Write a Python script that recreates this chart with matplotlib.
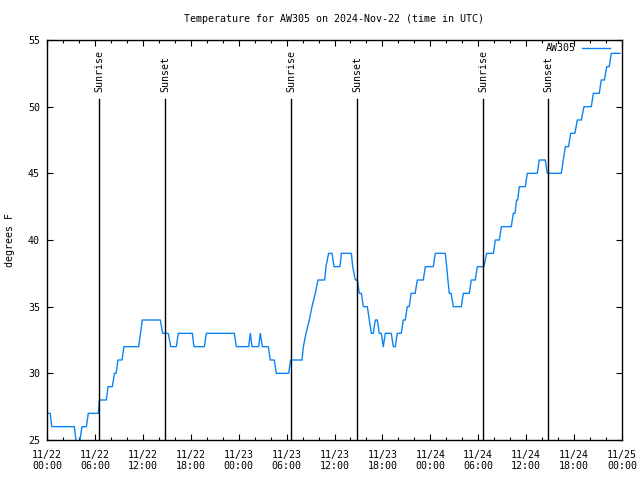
import matplotlib
matplotlib.use("Agg")
import matplotlib.pyplot as plt
from matplotlib.ticker import MultipleLocator

# ---- data (hours since 2024-11-22 00:00 UTC, degrees F) ----
hours = [0.1, 0.4, 0.6, 3.42, 3.63, 3.88, 4.13, 4.38, 4.93, 5.17, 6.43, 6.55, 7.43, 7.64,
         8.18, 8.45, 8.65, 8.89, 9.39, 9.64, 11.48, 11.7, 11.93, 14.19, 14.48, 15.19, 15.49,
         16.19, 16.44, 18.2, 18.4, 19.7, 19.95, 23.46, 23.71, 25.25, 25.46, 25.67, 26.5,
         26.71, 26.96, 27.71, 27.96, 28.46, 28.71, 30.26, 30.51, 31.93, 32.1, 32.43, 32.85,
         33.18, 33.6, 33.93, 34.77, 34.93, 35.27, 35.69, 35.94, 36.69, 36.86, 38.11, 38.28,
         38.61, 38.86, 39.11, 39.36, 39.61, 40.11, 40.36, 40.61, 40.86, 41.11, 41.36, 41.61,
         41.86, 42.11, 42.36, 43.11, 43.36, 43.61, 43.86, 44.36, 44.61, 44.86, 45.11, 45.35,
         45.6, 46.1, 46.37, 47.12, 47.37, 48.37, 48.62, 49.87, 50.05, 50.2, 50.38, 50.6,
         50.88, 51.88, 52.13, 52.88, 53.13, 53.63, 53.88, 54.7, 55.06, 55.9, 56.14, 56.64,
         56.89, 58.14, 58.39, 58.6, 58.8, 58.95, 59.14, 59.89, 60.14, 61.39, 61.64, 62.4,
         62.65, 64.4, 64.65, 64.9, 65.3, 65.57, 66.1, 66.4, 66.9, 67.24, 68.16, 68.41,
         69.16, 69.4, 69.8, 70.08, 70.4, 70.66, 71.75]
temps = [27, 27, 26, 26, 25, 24, 25, 26, 26, 27, 27, 28, 28, 29,
         29, 30, 30, 31, 31, 32, 32, 33, 34, 34, 33, 33, 32,
         32, 33, 33, 32, 32, 33, 33, 32, 32, 33, 32, 32,
         33, 32, 32, 31, 31, 30, 30, 31, 31, 32, 33, 34,
         35, 36, 37, 37, 38, 39, 39, 38, 38, 39, 39, 38,
         37, 37, 36, 36, 35, 35, 34, 33, 33, 34, 34, 33,
         33, 32, 33, 33, 32, 32, 33, 33, 34, 34, 35, 35,
         36, 36, 37, 37, 38, 38, 39, 39, 38, 37, 36, 36,
         35, 35, 36, 36, 37, 37, 38, 38, 39, 39, 40, 40,
         41, 41, 42, 42, 43, 43, 44, 44, 45, 45, 46, 46,
         45, 45, 46, 47, 47, 48, 48, 49, 49, 50, 50, 51,
         51, 52, 52, 53, 53, 54, 54]

sun_events = [6.51, 14.78, 30.59, 38.86, 54.64, 62.78]
sun_labels = ["Sunrise", "Sunset", "Sunrise", "Sunset", "Sunrise", "Sunset"]

xtick_hours = [0, 6, 12, 18, 24, 30, 36, 42, 48, 54, 60, 66, 72]
xtick_labels = ["11/22\n00:00", "11/22\n06:00", "11/22\n12:00", "11/22\n18:00",
                "11/23\n00:00", "11/23\n06:00", "11/23\n12:00", "11/23\n18:00",
                "11/24\n00:00", "11/24\n06:00", "11/24\n12:00", "11/24\n18:00",
                "11/25\n00:00"]
yticks = [25, 30, 35, 40, 45, 50, 55]

title = "Temperature for AW305 on 2024-Nov-22 (time in UTC)"
series_name = "AW305"

# ---- drawing ----
FONT = "DejaVu Sans Mono"
FS = 7.2
plt.rcParams["font.family"] = FONT
plt.rcParams["font.size"] = FS

fig = plt.figure(figsize=(6.4, 4.8), dpi=100)
L, R, T, B = 47 / 640, 622 / 640, 1 - 40 / 480, 1 - 440 / 480
ax = fig.add_axes([L, B, R - L, T - B])

line_color = "#0a84f5"
ax.plot(hours, temps, color=line_color, lw=1.0, label=series_name, clip_on=True)

y_line_top = 50.55
y_text = 51.1
for h, lab in zip(sun_events, sun_labels):
    ax.plot([h, h], [25, y_line_top], color="black", lw=1.0)
    ax.text(h, y_text, lab, rotation=90, ha="center", va="bottom", fontsize=FS)

ax.set_xlim(0, 72)
ax.set_ylim(25, 55)
ax.set_xticks(xtick_hours)
ax.set_xticklabels(xtick_labels)
ax.xaxis.set_minor_locator(MultipleLocator(2))
ax.set_yticks(yticks)
ax.tick_params(which="major", direction="in", length=4.5, width=0.8,
               top=True, right=True, labelsize=FS)
ax.tick_params(which="minor", direction="in", length=2.3, width=0.8,
               top=True, right=False)
ax.tick_params(axis="x", pad=7)
ax.tick_params(axis="y", pad=5)
for s in ax.spines.values():
    s.set_linewidth(1.0)

fig.text((47 + 622) / 2 / 640, 1 - 19 / 480, title, ha="center", va="center", fontsize=FS)
fig.text(10 / 640, 0.5 * (T + B), "degrees F", rotation=90, ha="center", va="center",
         fontsize=FS)

ax.legend(loc="upper right", frameon=False, markerfirst=False, handlelength=2.8,
          handletextpad=0.6, borderaxespad=0.0, borderpad=0.0, fontsize=FS,
          bbox_to_anchor=(1 - 12 / 575, 1 - 3 / 400))

fig.savefig("out.png", dpi=100)
